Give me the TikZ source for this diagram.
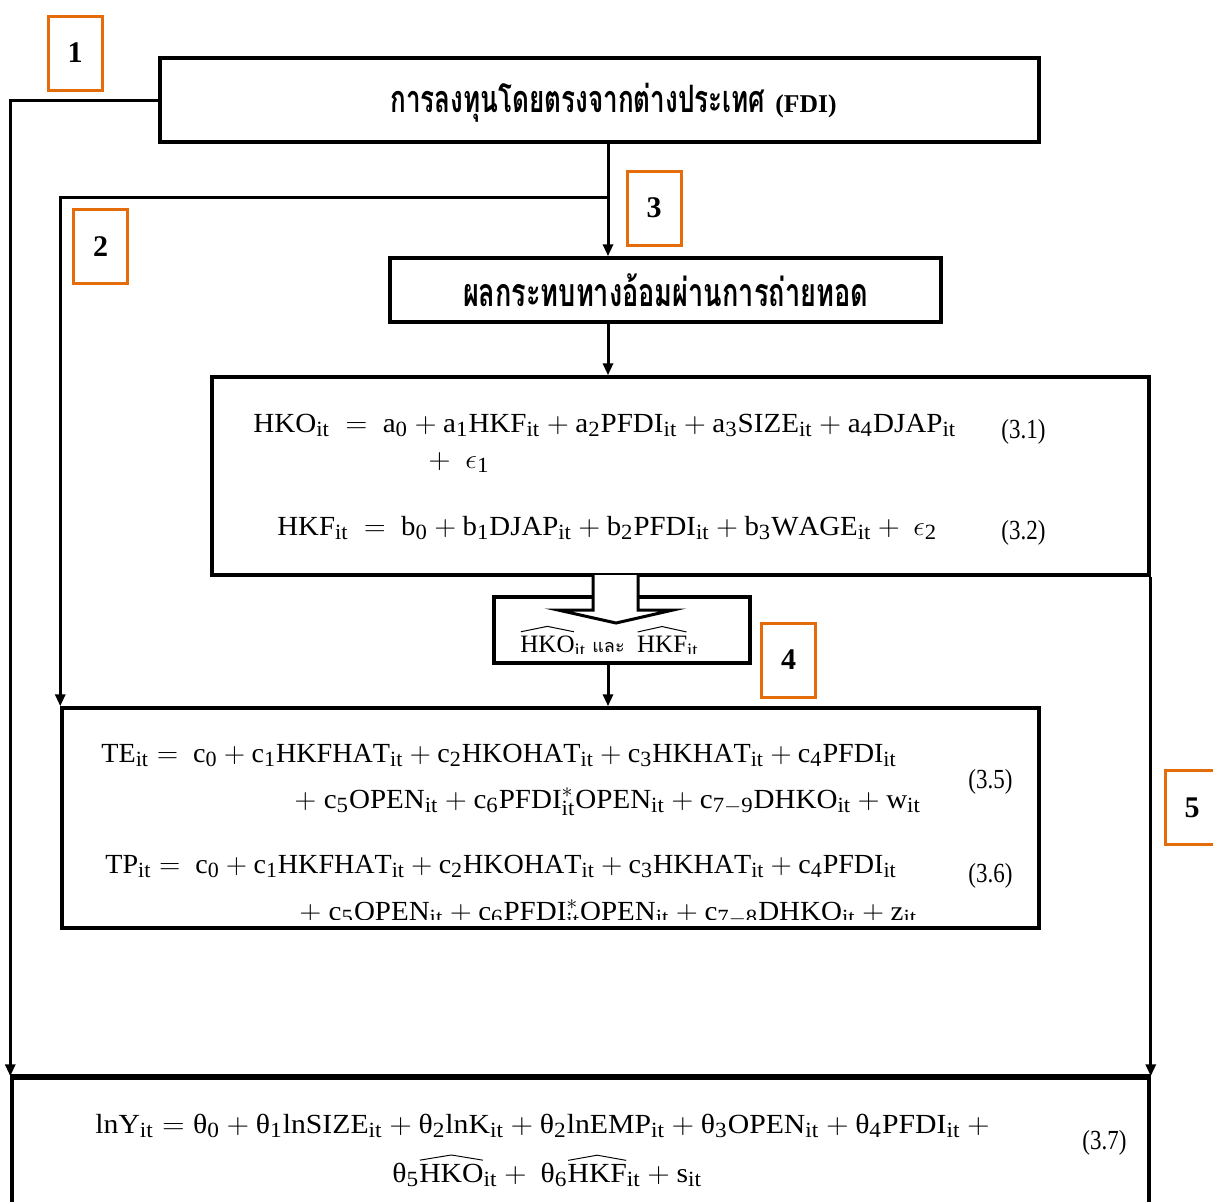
\documentclass[tikz,border=0pt]{standalone}
\usepackage{fontspec}
\usepackage{graphicx}
\setmainfont{Liberation Serif}
\newfontfamily\thaifont[Script=Thai]{Loma}
\usetikzlibrary{arrows.meta}
\definecolor{boxorange}{HTML}{E46C0A}
\DeclareMathSizes{14.4}{14.4}{11.3}{8.8}
\DeclareMathSizes{12.5}{12.5}{9.5}{7.5}
\newsavebox{\hatbx}
\newlength{\hatw}
\newcommand{\whx}[1]{%
  \sbox{\hatbx}{$\mathrm{#1}$}%
  \setlength{\hatw}{\wd\hatbx}%
  \mathord{\vbox{\offinterlineskip
    \hbox{\tikz[baseline=0pt]\draw[line width=0.5pt,line join=round] (0.3pt,0pt) .. controls (0.25\hatw,1.3pt) .. (0.5\hatw,2.7pt) .. controls (0.75\hatw,1.3pt) .. (\hatw-0.3pt,0pt);}%
    \kern1.6pt\hbox{\usebox{\hatbx}}}}}
\newcommand{\thx}{\hbox{θ}}
\newcommand{\eqtxt}[2][1]{\scalebox{#1}[0.96]{\fontsize{14.4}{17}\selectfont$\mathrm{#2}$}}
\newcommand{\eqnum}[1]{\scalebox{1}[1.2]{\fontsize{11.5}{14}\selectfont #1}}
\newcommand{\thfit}[3]{\scalebox{1}[#3]{\resizebox{#1}{!}{\thaifont\bfseries #2}}}
\begin{document}
\begin{tikzpicture}[x=0.5pt,y=-0.5pt,
  conn/.style={line width=1.5pt,-{Triangle[length=6pt,width=5pt]}},
  mainbox/.style={draw,line width=1.75pt,inner sep=0pt},
  tagbox/.style={draw=boxorange,line width=1.5pt,minimum width=27pt,minimum height=37pt,inner sep=0pt,font=\fontsize{15}{18}\selectfont\bfseries},
  eqn/.style={anchor=base west,inner sep=0pt},
  num/.style={anchor=west,inner sep=0pt}]
\useasboundingbox (0,0) rectangle (1213,1201);

% main boxes
\node[mainbox,line width=2pt,minimum width=439.5pt,minimum height=42pt] (fdi) at (599.5,100) {};
\node[anchor=base west,inner sep=0pt] (fditext) at (390,112)
  {\thfit{187.5pt}{การลงทุนโดยตรงจากต่างประเทศ}{1.45}\hspace{5pt}{\fontsize{12.8}{15}\selectfont\bfseries(FDI)}};
\node[mainbox,minimum width=275.5pt,minimum height=32pt] (spill) at (665.5,290)
  {\raisebox{-3pt}{\thfit{202.5pt}{ผลกระทบทางอ้อมผ่านการถ่ายทอด}{1.45}}};
\node[mainbox,minimum width=468.5pt,minimum height=99pt] (eq) at (680.5,476) {};
\node[mainbox,minimum width=128pt,minimum height=33pt] (hat) at (622,630) {};
\node[mainbox,minimum width=488.5pt,minimum height=110pt] (te) at (550.5,818) {};
\node[mainbox,minimum width=568.5pt,minimum height=71pt] (bottom) at (580.5,1149) {};
\draw[line width=2.5pt] (bottom.north west) -- (bottom.north east);

% orange tags
\node[tagbox] (t1) at (75,53) {\raisebox{-3pt}{1}};
\node[tagbox] (t2) at (100.5,246.5) {\raisebox{-3pt}{2}};
\node[tagbox] (t3) at (654,208) {\raisebox{-3pt}{3}};
\node[tagbox] (t4) at (788.5,660) {\raisebox{-3pt}{4}};
\node[tagbox] (t5) at (1192,807.5) {\raisebox{-3pt}{5}};

% connectors
\coordinate (ax) at (608,0);
\coordinate (br) at (608,197);
\draw[conn] (fdi.west) -| (bottom.north west);
\draw[conn] (fdi.south -| ax) -- (spill.north -| ax);
\draw[conn] (br) -| (te.north west);
\draw[conn] (spill.south -| ax) -- (eq.north -| ax);
\draw[conn] (hat.south -| ax) -- (te.north -| ax);
\draw[conn] (eq.south east) -- (bottom.north east);

% hollow block arrow
\draw[line width=1.5pt,fill=white,line join=miter] (593,575) -- (593,610) -- (558,610) -- (616,623) -- (673,610) -- (638,610) -- (638,575);

% equations in first box
\node[eqn] (e1) at (253,432) {\eqtxt[1.009]{HKO_{it}\ =\ a_0 + a_1HKF_{it} + a_2PFDI_{it} + a_3SIZE_{it} + a_4DJAP_{it}}};
\node[eqn] (e1b) at (428,468) {\eqtxt[1.02]{+\ \ \epsilon_1}};
\node[eqn] (e2) at (277,535) {\eqtxt[1.002]{HKF_{it}\ =\ b_0 + b_1DJAP_{it} + b_2PFDI_{it} + b_3WAGE_{it} +\ \epsilon_2}};
\node[num] (n1) at (1001,432) {\eqnum{(3.1)}};
\node[num] (n2) at (1001,533) {\eqnum{(3.2)}};

% hat box text (clipped)
\begin{scope}
\clip (494,597) rectangle (750,653);
\node[anchor=base west,inner sep=0pt] (hattext) at (520,652)
  {\fontsize{12.5}{15}\selectfont$\mathrm{\whx{HKO}_{it}}$ {\thaifont\fontsize{9}{10}\selectfont และ} \ $\mathrm{\whx{HKF}_{it}}$};
\end{scope}

% equations in second box
\begin{scope}
\clip (62,708) rectangle (1039,919);
\node[eqn] (e3) at (101,762) {\eqtxt[0.977]{TE_{it} =\ c_0 + c_1HKFHAT_{it} + c_2HKOHAT_{it} + c_3HKHAT_{it} + c_4PFDI_{it}}};
\node[eqn] (e3b) at (294,808) {\eqtxt[1.008]{+\ c_5OPEN_{it} + c_6PFDI^{*}_{it}OPEN_{it} + c_{7-9}DHKO_{it} + w_{it}}};
\node[eqn] (e4) at (105,873) {\eqtxt[0.974]{TP_{it} =\ c_0 + c_1HKFHAT_{it} + c_2HKOHAT_{it} + c_3HKHAT_{it} + c_4PFDI_{it}}};
\node[eqn] (e4b) at (299,920) {\eqtxt[1.007]{+\ c_5OPEN_{it} + c_6PFDI^{*}_{it}OPEN_{it} + c_{7-8}DHKO_{it} + z_{it}}};
\end{scope}
\node[num] (n5) at (968,782) {\eqnum{(3.5)}};
\node[num] (n6) at (968,876) {\eqnum{(3.6)}};

% bottom equation
\node[eqn] (e7) at (95,1133) {\eqtxt[1.032]{lnY_{it} = \thx_0 + \thx_1lnSIZE_{it} + \thx_2lnK_{it} + \thx_2lnEMP_{it} + \thx_3OPEN_{it} + \thx_4PFDI_{it} +{}}};
\node[eqn] (e7b) at (392,1182) {\eqtxt[1.03]{\thx_5\whx{HKO}_{it} +\ \thx_6\whx{HKF}_{it} + s_{it}}};
\node[num] (n7) at (1082,1143) {\eqnum{(3.7)}};
\end{tikzpicture}
\end{document}
